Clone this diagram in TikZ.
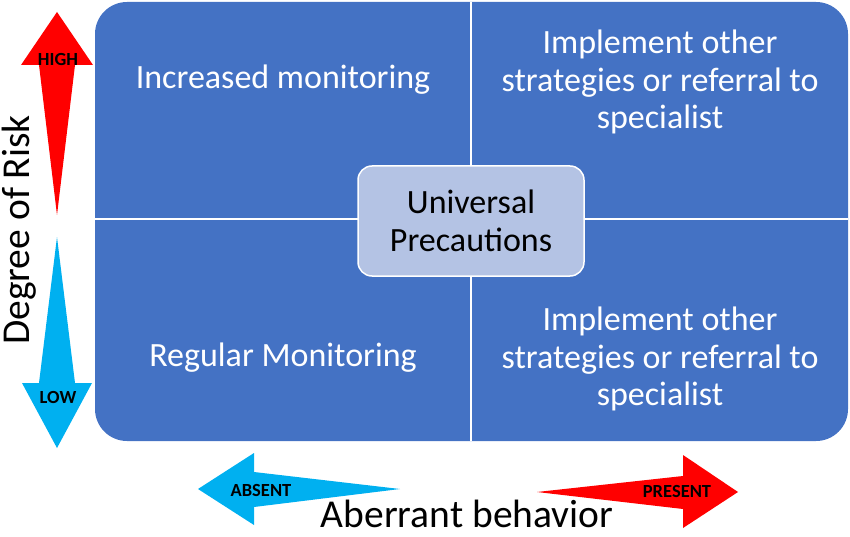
\documentclass[tikz,border=0pt]{standalone}
\usepackage{fontspec}
\setmainfont{Carlito}
\usetikzlibrary{positioning}

\definecolor{quadblue}{HTML}{4472C4}
\definecolor{centrefill}{HTML}{B4C3E4}
\definecolor{lowblue}{HTML}{00B0F0}
\definecolor{highred}{HTML}{FF0000}

\begin{document}
\begin{tikzpicture} [x=1pt, y=-1pt,
            quadtext/.style = {text=white, align=center,
                font=\fontsize{34}{37.5}\selectfont},
            centre/.style = {draw=white, line width=1.5pt, fill=centrefill,
                rounded corners=14pt, minimum width=226pt, minimum height=110pt,
                align=center, font=\fontsize{34}{37.5}\selectfont},
            tag/.style = {font=\fontsize{18.5}{20}\selectfont\bfseries},
            axis/.style = {font=\fontsize{39.5}{44}\selectfont, anchor=base,
                inner sep=1pt}]

        \useasboundingbox (0,0) rectangle (850,537);

        % Quadrant field
        \fill [quadblue, rounded corners=32pt] (95,2) rectangle (848,441);
        \draw [white, line width=2pt] (471,2) -- (471,441)
            (95,219) -- (848,219);

        % Quadrant labels
        \node (inc) [quadtext] at (283,80) {Increased monitoring};
        \node (impl1) [quadtext] at (660,82)
            {Implement other\\strategies or referral to\\specialist};
        \node (reg) [quadtext] at (283,358) {Regular Monitoring};
        \node (impl2) [quadtext] at (660,359)
            {Implement other\\strategies or referral to\\specialist};

        % Universal precautions
        \node (univ) [centre] at (471,221) {Universal\\Precautions};

        % Risk arrows
        \fill [highred] (57,12) -- (93,65) -- (75,65) -- (57,215)
            -- (39,65) -- (21,65) -- cycle;
        \fill [lowblue] (57,448) -- (92,383) -- (75,383) -- (57,237)
            -- (39,383) -- (22,383) -- cycle;
        \node (high) [tag] at (58,59) {HIGH};
        \node (low) [tag] at (58,397) {LOW};
        \node (risk) [axis, rotate=90] at (29,230) {Degree of Risk};

        % Behaviour arrows
        \fill [lowblue] (198,489) -- (254,453) -- (254,472) -- (400,489)
            -- (254,507) -- (254,525) -- cycle;
        \fill [highred] (738,492) -- (683,455) -- (683,476) -- (537,492)
            -- (683,509) -- (683,528) -- cycle;
        \node (absent) [tag] at (261,490) {ABSENT};
        \node (present) [tag] at (677,491) {PRESENT};
        \node (aber) [axis] at (467,527) {Aberrant behavior};
\end{tikzpicture}
\end{document}
